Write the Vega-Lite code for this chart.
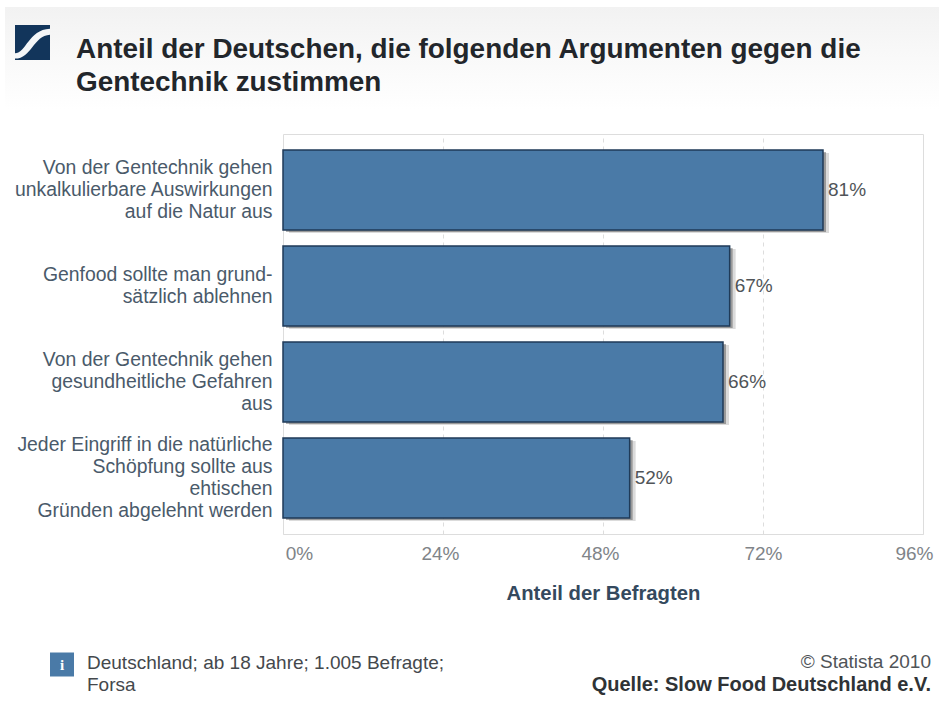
{
  "$schema": "https://vega.github.io/schema/vega-lite/v6.json",
  "width": 640,
  "height": 400,
  "autosize": "none",
  "padding": {"left": 283, "top": 134, "right": 16, "bottom": 178},
  "background": "#ffffff",
  "data": {
    "values": [
      {"argument": "Von der Gentechnik gehen|unkalkulierbare Auswirkungen|auf die Natur aus", "anteil": 0.81},
      {"argument": "Genfood sollte man grund-|sätzlich ablehnen", "anteil": 0.67},
      {"argument": "Von der Gentechnik gehen|gesundheitliche Gefahren|aus", "anteil": 0.66},
      {"argument": "Jeder Eingriff in die natürliche|Schöpfung sollte aus|ehtischen|Gründen abgelehnt werden", "anteil": 0.52}
    ]
  },
  "layer": [
    {
      "data": {"values": [{"band": "header"}]},
      "mark": {
        "type": "rect",
        "fill": {
          "gradient": "linear",
          "x1": 0, "y1": 0, "x2": 0, "y2": 1,
          "stops": [
            {"offset": 0, "color": "#f2f2f2"},
            {"offset": 0.5, "color": "#f9f9f9"},
            {"offset": 1, "color": "#ffffff"}
          ]
        }
      },
      "encoding": {
        "x": {"value": -278},
        "x2": {"value": 656},
        "y": {"value": -127},
        "y2": {"value": -24}
      }
    },
    {
      "data": {"values": [{"heading": ["Anteil der Deutschen, die folgenden Argumenten gegen die", "Gentechnik zustimmen"]}]},
      "mark": {"type": "text", "align": "left", "baseline": "alphabetic", "font": "Liberation Sans", "fontSize": 27.9, "fontWeight": "bold", "color": "#22262b", "lineHeight": 33},
      "encoding": {"x": {"value": -207}, "y": {"value": -76}, "text": {"field": "heading"}}
    },
    {
      "data": {"values": [{"part": "logo"}]},
      "layer": [
        {
          "mark": {"type": "point", "shape": "square", "filled": true, "size": 1225, "color": "#12355b", "opacity": 1, "strokeWidth": 0},
          "encoding": {"x": {"value": -250.5}, "y": {"value": -91.5}}
        },
        {
          "mark": {"type": "point", "shape": "M-1,0.62 C-0.35,0.62 -0.25,-0.72 1,-0.78 L1,-0.45 C0.05,-0.4 -0.05,0.92 -1,0.92 Z", "filled": true, "size": 1225, "color": "#f4f6f8", "opacity": 1, "strokeWidth": 0},
          "encoding": {"x": {"value": -250.5}, "y": {"value": -91.5}}
        }
      ]
    },
    {
      "mark": {"type": "bar", "color": "#000000", "opacity": 0.14, "xOffset": 6, "x2Offset": 6, "yOffset": 3, "y2Offset": 3},
      "encoding": {
        "y": {"field": "argument", "type": "nominal", "sort": null},
        "x": {"field": "anteil", "type": "quantitative"}
      }
    },
    {
      "mark": {"type": "bar", "color": "#000000", "opacity": 0.3, "xOffset": 3, "x2Offset": 3, "yOffset": 2, "y2Offset": 2},
      "encoding": {
        "y": {"field": "argument", "type": "nominal", "sort": null},
        "x": {"field": "anteil", "type": "quantitative"}
      }
    },
    {
      "mark": {"type": "bar", "fill": "#4a7aa7", "stroke": "#1f3a58", "strokeWidth": 1.5},
      "encoding": {
        "y": {
          "field": "argument",
          "type": "nominal",
          "sort": null,
          "title": null,
          "scale": {"paddingInner": 0.16667, "paddingOuter": 0.16667},
          "axis": {
            "labelExpr": "split(datum.label, '|')",
            "labelFont": "Liberation Sans",
            "labelFontSize": 19.4,
            "labelColor": "#4a5a6a",
            "labelLineHeight": 22,
            "labelLimit": 300,
            "labelPadding": 11,
            "labelOffset": {"expr": "-(length(split(datum.value, '|')) - 1) * 11"},
            "ticks": false,
            "domain": false
          }
        },
        "x": {
          "field": "anteil",
          "type": "quantitative",
          "title": "Anteil der Befragten",
          "scale": {"domain": [0, 0.96], "nice": false},
          "axis": {
            "values": [0, 0.24, 0.48, 0.72, 0.96],
            "format": ".0%",
            "labelFont": "Liberation Sans",
            "labelFontSize": 19,
            "labelColor": "#808488",
            "labelPadding": 10,
            "labelFlush": false,
            "labelOffset": {"expr": "datum.value < 0.01 ? 16 : datum.value > 0.95 ? -9 : datum.value < 0.6 ? -3 : 0"},
            "ticks": false,
            "domain": false,
            "grid": true,
            "gridColor": "#dddddd",
            "gridDash": [4, 4],
            "titleFont": "Liberation Sans",
            "titleFontSize": 20.3,
            "titleFontWeight": "bold",
            "titleColor": "#34495e",
            "titlePadding": 20
          }
        }
      }
    },
    {
      "mark": {"type": "text", "align": "left", "baseline": "middle", "dx": 5, "font": "Liberation Sans", "fontSize": 19, "color": "#505458"},
      "encoding": {
        "y": {"field": "argument", "type": "nominal", "sort": null},
        "x": {"field": "anteil", "type": "quantitative"},
        "text": {"field": "anteil", "type": "quantitative", "format": ".0%"}
      }
    },
    {
      "data": {"values": [{"symbol": "i"}]},
      "layer": [
        {
          "mark": {"type": "point", "shape": "square", "filled": true, "size": 576, "color": "#4a7aa7", "opacity": 1, "strokeWidth": 0},
          "encoding": {"x": {"value": -221}, "y": {"value": 530.5}}
        },
        {
          "mark": {"type": "text", "align": "center", "baseline": "middle", "font": "Liberation Serif", "fontSize": 15, "fontWeight": "bold", "color": "#ffffff"},
          "encoding": {"x": {"value": -221}, "y": {"value": 531}, "text": {"field": "symbol"}}
        }
      ]
    },
    {
      "data": {"values": [{"note": ["Deutschland; ab 18 Jahre; 1.005 Befragte;", "Forsa"]}]},
      "mark": {"type": "text", "align": "left", "baseline": "middle", "font": "Liberation Sans", "fontSize": 19, "color": "#44484c", "lineHeight": 22},
      "encoding": {"x": {"value": -196}, "y": {"value": 529}, "text": {"field": "note"}}
    },
    {
      "data": {"values": [{"credit": "© Statista 2010"}]},
      "mark": {"type": "text", "align": "right", "baseline": "middle", "font": "Liberation Sans", "fontSize": 19, "color": "#505458"},
      "encoding": {"x": {"value": 648}, "y": {"value": 528}, "text": {"field": "credit"}}
    },
    {
      "data": {"values": [{"source": "Quelle: Slow Food Deutschland e.V."}]},
      "mark": {"type": "text", "align": "right", "baseline": "middle", "font": "Liberation Sans", "fontSize": 20, "fontWeight": "bold", "color": "#2f3336"},
      "encoding": {"x": {"value": 648}, "y": {"value": 551}, "text": {"field": "source"}}
    }
  ]
}
